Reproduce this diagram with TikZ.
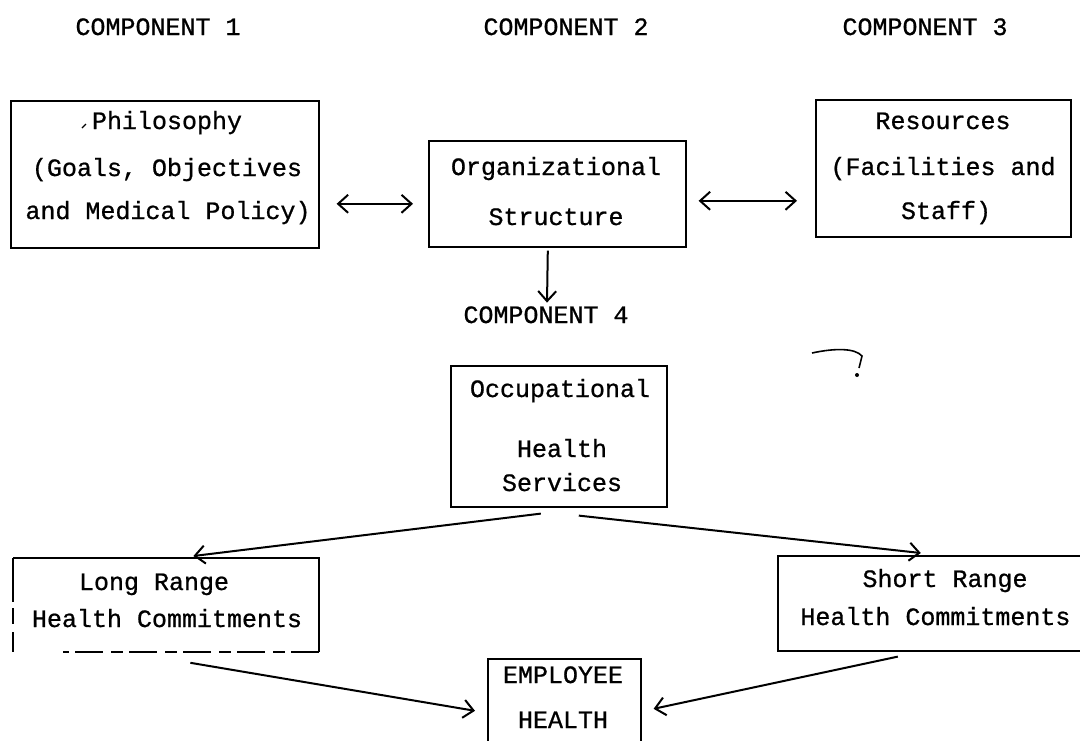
\documentclass[tikz,border=0pt]{standalone}
\usepackage{fontspec}
\setmonofont[FakeBold=0.8]{Liberation Mono}
\usetikzlibrary{arrows.meta,calc}
\begin{document}
\begin{tikzpicture}[x=0.5pt,y=-0.5pt,
  box/.style={draw, line width=0.8pt, inner sep=0pt, anchor=north west},
  plainbox/.style={inner sep=0pt, anchor=north west},
  txt/.style={font=\ttfamily\fontsize{12.5}{14}\selectfont, inner sep=0pt, text height=0.7em, text depth=0.2em},
  boxedge/.style={line width=0.8pt},
  barb/.tip={Straight Barb[length=5pt,width=9pt,line width=1pt]},
  conn/.style={line width=1pt, -barb},
  dconn/.style={line width=1pt, barb-barb},
  straymark/.style={line width=0.8pt},
]
\useasboundingbox (0,0) rectangle (1080,740);

% headers
\node[txt] (c1) at (158,30) {COMPONENT 1};
\node[txt] (c2) at (566,30) {COMPONENT 2};
\node[txt] (c3) at (925,30) {COMPONENT 3};

% boxes
\node[box, minimum width=154pt, minimum height=73.5pt] (phil) at (10,100) {};
\node[box, minimum width=128.5pt, minimum height=53pt] (org) at (428,140) {};
\node[box, minimum width=127.5pt, minimum height=68.5pt] (res) at (815,99) {};
\node[box, minimum width=108pt, minimum height=70.5pt] (occ) at (450,365) {};
\node[plainbox, minimum width=152.5pt, minimum height=46.5pt] (lr) at (13,558) {};
\node[box, minimum width=156.5pt, minimum height=47.5pt] (sr) at (777,555) {};
\node[box, minimum width=76.5pt, minimum height=50pt] (emp) at (487,658) {};

% long range box edges (partly broken)
\draw[boxedge] (lr.north west) -- (lr.north east) -- (lr.south east);
\draw[boxedge, dash pattern=on 14pt off 3pt on 6pt off 4pt] (lr.south east) -- ($(lr.south west)+(50,0)$);
\draw[boxedge, dash pattern=on 22pt off 3pt on 8pt off 4pt] (lr.north west) -- (lr.south west);

% texts
\node[txt] (phil1) at (167,124) {Philosophy};
\node[txt] (phil2) at (167,171) {(Goals, Objectives};
\node[txt] (phil3) at (168,214) {and Medical Policy)};
\node[txt] (org1) at (556,170) {Organizational};
\node[txt] (org2) at (556,220) {Structure};
\node[txt] (res1) at (943,124) {Resources};
\node[txt] (res2) at (943,170) {(Facilities and};
\node[txt] (res3) at (946,214) {Staff)};
\node[txt] (c4) at (546,318) {COMPONENT 4};
\node[txt] (occ1) at (560,392) {Occupational};
\node[txt] (occ2) at (562,452) {Health};
\node[txt] (occ3) at (562,486) {Services};
\node[txt] (lr1) at (154,585) {Long Range};
\node[txt] (lr2) at (167,622) {Health Commitments};
\node[txt] (sr1) at (945,582) {Short Range};
\node[txt, anchor=west] (sr2) at (800,620) {Health Commitments};
\node[txt] (emp1) at (563,678) {EMPLOYEE};
\node[txt] (emp2) at (563,723) {HEALTH};

% connectors
\draw[dconn] ($(phil.east)+(17,29.5)$) -- ($(org.west)+(-15,10)$);
\draw[dconn] ($(org.east)+(12,7)$) -- ($(res.west)+(-18,32.5)$);
\draw[conn] ($(org.south)+(-9.5,3)$) -- ($(c4.north)+(1,-6)$);
\draw[conn] ($(occ.south)+(-18,6)$) -- ($(lr.north)+(27.5,-2)$);
\draw[conn] ($(occ.south)+(20,8)$) -- ($(sr.north)+(-13.5,-2)$);
\draw[conn] ($(lr.south)+(24.5,11)$) -- ($(emp.west)+(-12,2)$);
\draw[conn] ($(sr.south)+(-36.5,5)$) -- ($(emp.east)+(12,0)$);

% stray marks
\draw[straymark] (812,353) .. controls (835,348) and (855,348) .. (862,356) -- (859,368);
\fill (857,375) circle (1pt);
\draw[line width=0.6pt] (82,128) -- (86,124);
\end{tikzpicture}
\end{document}
